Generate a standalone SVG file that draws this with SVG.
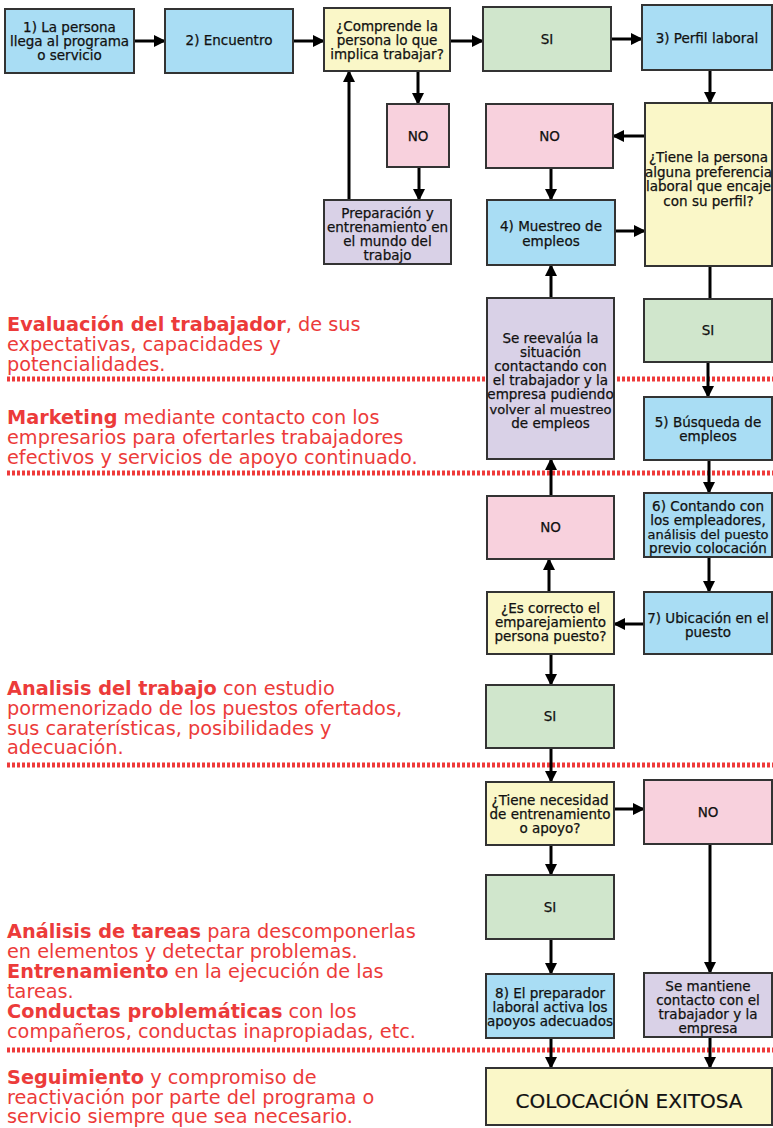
<svg xmlns="http://www.w3.org/2000/svg" width="773" height="1128" viewBox="0 0 773 1128">
<style>
.box{stroke:#333;stroke-width:2}
.blue{fill:#a9ddf4}.yel{fill:#faf7c8}.grn{fill:#d0e6cc}.pink{fill:#f8d1dd}.pur{fill:#d9d1e7}
.t{font-family:"DejaVu Sans",Verdana,sans-serif;font-size:13.5px;fill:#111;stroke:#111;stroke-width:0.25;text-anchor:middle}
.s{font-size:13px}
.big{font-size:20px;stroke-width:0.2}
.r{font-family:"DejaVu Sans",Verdana,sans-serif;font-size:19.3px;fill:#ec3b3a}
.b{font-weight:bold}
.dot{stroke:#ee3a3a;stroke-width:5;stroke-dasharray:3 2}
.c{stroke:#000;stroke-width:3;fill:none;marker-end:url(#ah)}
.c0{stroke:#000;stroke-width:3;fill:none}
</style>
<defs>
<marker id="ah" markerUnits="userSpaceOnUse" markerWidth="12" markerHeight="12" refX="11" refY="6" orient="auto">
<path d="M0,0 L12,6 L0,12 z" fill="#000"/>
</marker>
</defs>
<rect width="773" height="1128" fill="#fff"/>
<g id="separators">
<line class="dot" x1="7" y1="379" x2="773" y2="379"/>
<line class="dot" x1="7" y1="473" x2="773" y2="473"/>
<line class="dot" x1="7" y1="765" x2="773" y2="765"/>
<line class="dot" x1="7" y1="1050" x2="773" y2="1050"/>
</g>
<g id="notes">
<text class="r" x="7" y="331"><tspan class="b">Evaluación del trabajador</tspan>, de sus</text>
<text class="r" x="7" y="351">expectativas, capacidades y</text>
<text class="r" x="7" y="371">potencialidades.</text>
<text class="r" x="7" y="424"><tspan class="b">Marketing</tspan> mediante contacto con los</text>
<text class="r" x="7" y="444">empresarios para ofertarles trabajadores</text>
<text class="r" x="7" y="464">efectivos y servicios de apoyo continuado.</text>
<text class="r" x="7" y="695"><tspan class="b">Analisis del trabajo</tspan> con estudio</text>
<text class="r" x="7" y="715">pormenorizado de los puestos ofertados,</text>
<text class="r" x="7" y="735">sus caraterísticas, posibilidades y</text>
<text class="r" x="7" y="754">adecuación.</text>
<text class="r" x="7" y="938"><tspan class="b">Análisis de tareas</tspan> para descomponerlas</text>
<text class="r" x="7" y="958">en elementos y detectar problemas.</text>
<text class="r" x="7" y="978"><tspan class="b">Entrenamiento</tspan> en la ejecución de las</text>
<text class="r" x="7" y="998">tareas.</text>
<text class="r" x="7" y="1018"><tspan class="b">Conductas problemáticas</tspan> con los</text>
<text class="r" x="7" y="1038">compañeros, conductas inapropiadas, etc.</text>
<text class="r" x="7" y="1084"><tspan class="b">Seguimiento</tspan> y compromiso de</text>
<text class="r" x="7" y="1104">reactivación por parte del programa o</text>
<text class="r" x="7" y="1123">servicio siempre que sea necesario.</text>
</g>
<g id="connectors">
<path class="c" d="M134,41 H165"/>
<path class="c" d="M293,41 H324"/>
<path class="c" d="M450,41 H483"/>
<path class="c" d="M611,39 H642"/>
<path class="c" d="M418,71 V104"/>
<path class="c" d="M419,167 V200"/>
<path class="c" d="M349,200 V71"/>
<path class="c" d="M710,70 V103"/>
<path class="c" d="M645,136 H613"/>
<path class="c" d="M551,168 V200"/>
<path class="c" d="M615,231 H645"/>
<path class="c0" d="M710,266 V299"/>
<path class="c" d="M551,298 V265"/>
<path class="c" d="M708,362 V397"/>
<path class="c" d="M709,460 V493"/>
<path class="c" d="M709,557 V592"/>
<path class="c" d="M644,624 H614"/>
<path class="c" d="M549,592 V559"/>
<path class="c" d="M551,496 V459"/>
<path class="c" d="M551,654 V685"/>
<path class="c" d="M551,748 V782"/>
<path class="c" d="M614,809 H644"/>
<path class="c" d="M551,845 V875"/>
<path class="c" d="M710,844 V973"/>
<path class="c" d="M551,939 V974"/>
<path class="c" d="M551,1038 V1068"/>
<path class="c" d="M710,1037 V1068"/>
</g>
<g id="n1"><rect class="box blue" x="5" y="9" width="129" height="64"/>
<text class="t" x="69.5" y="32">1) La persona</text><text class="t" x="69.5" y="46">llega al programa</text><text class="t" x="69.5" y="60">o servicio</text></g>
<g id="n2"><rect class="box blue" x="165" y="9" width="128" height="64"/>
<text class="t" x="229" y="45">2) Encuentro</text></g>
<g id="n3"><rect class="box yel" x="324" y="8" width="126" height="63"/>
<text class="t" x="387" y="31">¿Comprende la</text><text class="t" x="387" y="45">persona lo que</text><text class="t" x="387" y="59">implica trabajar?</text></g>
<g id="si1"><rect class="box grn" x="483" y="7" width="128" height="64"/>
<text class="t" x="547" y="44">SI</text></g>
<g id="n4"><rect class="box blue" x="642" y="5" width="130" height="65"/>
<text class="t" x="707" y="43">3) Perfil laboral</text></g>
<g id="no1"><rect class="box pink" x="387" y="104" width="62" height="63"/>
<text class="t" x="418" y="141">NO</text></g>
<g id="prep"><rect class="box pur" x="324" y="200" width="127" height="64"/>
<text class="t" x="387.5" y="218">Preparación y</text><text class="t" x="387.5" y="232">entrenamiento en</text><text class="t" x="387.5" y="246">el mundo del</text><text class="t" x="387.5" y="260">trabajo</text></g>
<g id="no2"><rect class="box pink" x="486" y="104" width="127" height="64"/>
<text class="t" x="549.5" y="141">NO</text></g>
<g id="q2"><rect class="box yel" x="645" y="103" width="127" height="163"/>
<text class="t" x="708.5" y="162">¿Tiene la persona</text><text class="t" x="708.5" y="176.5">alguna preferencia</text><text class="t" x="708.5" y="191">laboral que encaje</text><text class="t" x="708.5" y="205.5">con su perfil?</text></g>
<g id="muestreo"><rect class="box blue" x="487" y="200" width="128" height="65"/>
<text class="t" x="551" y="231">4) Muestreo de</text><text class="t" x="551" y="246">empleos</text></g>
<g id="reeval"><rect class="box pur" x="487" y="298" width="127" height="161"/>
<text class="t" x="550.5" y="343">Se reevalúa la</text><text class="t" x="550.5" y="357">situación</text><text class="t" x="550.5" y="371">contactando con</text><text class="t" x="550.5" y="385">el trabajador y la</text><text class="t" x="550.5" y="399">empresa pudiendo</text><text class="t s" x="550.5" y="414">volver al muestreo</text><text class="t" x="550.5" y="428">de empleos</text></g>
<g id="si2"><rect class="box grn" x="644" y="299" width="128" height="63"/>
<text class="t" x="708" y="335">SI</text></g>
<g id="busq"><rect class="box blue" x="644" y="397" width="128" height="63"/>
<text class="t" x="708" y="427">5) Búsqueda de</text><text class="t" x="708" y="441">empleos</text></g>
<g id="no3"><rect class="box pink" x="487" y="496" width="127" height="63"/>
<text class="t" x="550.5" y="532">NO</text></g>
<g id="contando"><rect class="box blue" x="644" y="493" width="128" height="64"/>
<text class="t" x="708" y="511">6) Contando con</text><text class="t" x="708" y="525">los empleadores,</text><text class="t s" x="708" y="539">análisis del puesto</text><text class="t" x="708" y="553">previo colocación</text></g>
<g id="q3"><rect class="box yel" x="487" y="592" width="127" height="62"/>
<text class="t" x="550.5" y="613">¿Es correcto el</text><text class="t" x="550.5" y="627">emparejamiento</text><text class="t" x="550.5" y="641">persona puesto?</text></g>
<g id="ubic"><rect class="box blue" x="644" y="592" width="128" height="62"/>
<text class="t" x="708" y="623">7) Ubicación en el</text><text class="t" x="708" y="637">puesto</text></g>
<g id="si3"><rect class="box grn" x="486" y="685" width="128" height="63"/>
<text class="t" x="550" y="721">SI</text></g>
<g id="q4"><rect class="box yel" x="486" y="782" width="128" height="63"/>
<text class="t" x="550" y="805">¿Tiene necesidad</text><text class="t" x="550" y="819">de entrenamiento</text><text class="t" x="550" y="833">o apoyo?</text></g>
<g id="no4"><rect class="box pink" x="644" y="780" width="128" height="64"/>
<text class="t" x="708" y="817">NO</text></g>
<g id="si4"><rect class="box grn" x="486" y="875" width="128" height="64"/>
<text class="t" x="550" y="912">SI</text></g>
<g id="n8"><rect class="box blue" x="486" y="974" width="128" height="64"/>
<text class="t" x="550" y="998">8) El preparador</text><text class="t" x="550" y="1012">laboral activa los</text><text class="t" x="550" y="1026">apoyos adecuados</text></g>
<g id="mant"><rect class="box pur" x="644" y="973" width="128" height="64"/>
<text class="t" x="708" y="991">Se mantiene</text><text class="t" x="708" y="1005">contacto con el</text><text class="t" x="708" y="1019">trabajador y la</text><text class="t" x="708" y="1033">empresa</text></g>
<g id="exito"><rect class="box yel" x="486" y="1068" width="286" height="57"/>
<text class="t big" x="629" y="1108">COLOCACIÓN EXITOSA</text></g>
</svg>
